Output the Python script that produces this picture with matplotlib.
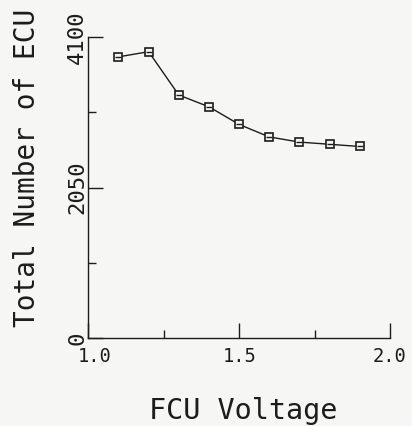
import matplotlib
matplotlib.use("Agg")
import matplotlib.pyplot as plt
from matplotlib.transforms import ScaledTranslation

voltage = [1.1, 1.2, 1.3, 1.4, 1.5, 1.6, 1.7, 1.8, 1.9]
total_ecu = [3830, 3900, 3310, 3150, 2910, 2740, 2670, 2640, 2610]
x_ticks = [1.0, 1.5, 2.0]
x_tick_labels = ["1.0", "1.5", "2.0"]
y_ticks = [0, 2050, 4100]
y_tick_labels = ["0", "2050", "4100"]
x_minor = [1.25, 1.75]
y_minor = [1025, 3075]

ink = "#1c1c1c"
bg = "#f6f6f4"
W, H = 412, 426
fig = plt.figure(figsize=(W / 100, H / 100), dpi=100, facecolor=bg)
left, right, top, bottom = 88.3, 390.0, 37.0, 338.3
ax = fig.add_axes([left / W, 1 - bottom / H, (right - left) / W, (bottom - top) / H])
ax.set_facecolor(bg)
ax.set_xlim(1.0, 2.0)
ax.set_ylim(0, 4100)
for s in ["top", "right"]:
    ax.spines[s].set_visible(False)
for s in ["left", "bottom"]:
    ax.spines[s].set_color(ink)
    ax.spines[s].set_linewidth(1.0)

font = "DejaVu Sans Mono"
ax.plot(voltage, total_ecu, color=ink, lw=1.0, marker="s", ms=5.8,
        mfc=bg, mec=ink, mew=1.2, zorder=3)
ax.plot(voltage, total_ecu, ls="none", marker="_", ms=4.0, mec=ink, mew=1.0, zorder=4)

ax.set_xticks(x_ticks)
ax.set_xticklabels(x_tick_labels, fontfamily=font, fontsize=13.5, color=ink)
ax.set_yticks(y_ticks)
ax.set_yticklabels(y_tick_labels, fontfamily=font, fontsize=16, color=ink,
                   rotation=90, va="center")
ax.set_xticks(x_minor, minor=True)
ax.set_yticks(y_minor, minor=True)
ax.tick_params(which="major", direction="in", length=10.8, width=1.0, color=ink)
ax.tick_params(which="minor", direction="in", length=5.8, width=1.0, color=ink)
ax.tick_params(axis="x", which="major", pad=6.0)
ax.tick_params(axis="y", which="major", pad=0.8)

# plotter-style offset of the first x label
lab0 = ax.get_xticklabels()[0]
lab0.set_transform(lab0.get_transform() + ScaledTranslation(6 / 100, 0, fig.dpi_scale_trans))

ax.set_xlabel("FCU Voltage", fontfamily=font, fontsize=20.5, color=ink)
ax.xaxis.label.set_va("baseline")
ax.xaxis.set_label_coords((243 - left) / (right - left), (bottom - 419) / (bottom - top))
ax.set_ylabel("Total Number of ECU", fontfamily=font, fontsize=20, color=ink)
ax.yaxis.label.set_va("center")
ax.yaxis.set_label_coords((27 - left) / (right - left), (bottom - 168) / (bottom - top))

fig.savefig("out.png", dpi=100, facecolor=bg)
